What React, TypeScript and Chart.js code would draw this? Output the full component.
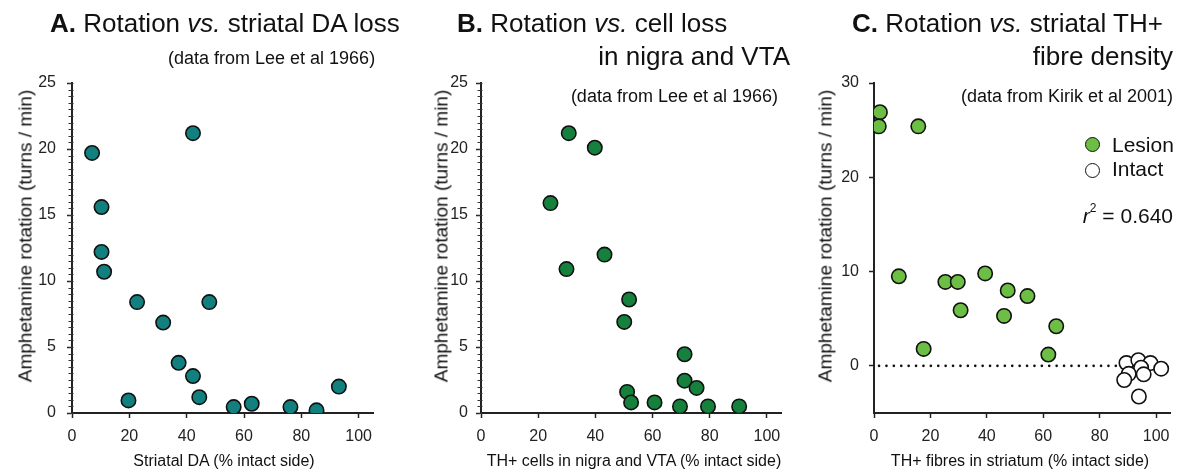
import React, { useEffect, useRef } from "react";
import { Chart, registerables } from "chart.js";

Chart.register(...registerables);

const FONT = "'Liberation Sans', Arial, sans-serif";

// ---- tick labels ----
const X_TICKS = [0, 20, 40, 60, 80, 100];
const Y_TICKS_AB = [0, 5, 10, 15, 20, 25];
const Y_TICKS_C = [0, 10, 20, 30];

// ---- Panel A: rotation vs striatal DA (% intact side) ----
const A_X = [7, 42.2, 10.3, 10.3, 11.2, 22.7, 47.9, 31.8, 37.2, 42.2, 44.4, 19.7, 56.4, 62.7, 76.2, 85.3, 93.1];
const A_Y = [19.7, 21.2, 15.6, 12.2, 10.7, 8.4, 8.4, 6.85, 3.8, 2.8, 1.2, 0.95, 0.45, 0.7, 0.45, 0.2, 2.0];

// ---- Panel B: rotation vs TH+ cells in nigra and VTA ----
const B_X = [30.7, 39.8, 24.3, 29.9, 43.2, 51.8, 50.1, 71.2, 71.2, 75.4, 51.1, 52.5, 60.7, 69.6, 79.4, 90.3];
const B_Y = [21.2, 20.1, 15.9, 10.9, 12.0, 8.6, 6.9, 4.45, 2.45, 1.9, 1.6, 0.8, 0.8, 0.5, 0.5, 0.5];

// ---- Panel C: rotation vs TH+ fibres in striatum ----
const C_LESION_X = [2.1, 1.7, 15.7, 8.8, 25.3, 29.7, 39.4, 47.4, 54.4, 30.7, 46.1, 64.6, 17.6, 61.8];
const C_LESION_Y = [26.9, 25.4, 25.4, 9.5, 8.9, 8.9, 9.8, 8.0, 7.4, 5.9, 5.3, 4.2, 1.8, 1.2];
const C_INTACT_X = [89.5, 93.7, 98, 101.8, 94.7, 95.6, 90.3, 88.7, 93.9];
const C_INTACT_Y = [0.3, 0.6, 0.3, -0.3, -0.2, -0.9, -0.85, -1.5, -3.25];
const C_ZERO_LINE_X = [0, 87];
const C_ZERO_LINE_Y = [0, 0];

const zip = (xs: number[], ys: number[]) => xs.map((x, i) => ({ x, y: ys[i] }));

type PanelCfg = {
  datasets: any[];
  yMin: number;
  yMax: number;
  yTicks: number[];
  minorStep: number;
  padLeft: number;
  padRight: number;
  yPad: number;
};

function makeOptions(cfg: PanelCfg): any {
  return {
    animation: false,
    responsive: false,
    maintainAspectRatio: false,
    events: [],
    layout: { padding: { left: cfg.padLeft, right: cfg.padRight, top: 83, bottom: 17 } },
    plugins: { legend: { display: false }, tooltip: { enabled: false }, title: { display: false } },
    scales: {
      x: {
        type: "linear",
        min: 0,
        max: 105,
        afterBuildTicks: (s: any) => {
          s.ticks = X_TICKS.map((v) => ({ value: v }));
        },
        afterFit: (s: any) => {
          s.height = 40;
        },
        border: { color: "#222", width: 2 },
        grid: { drawOnChartArea: false, drawTicks: true, tickLength: 5, tickColor: "#222", tickWidth: 1.5 },
        ticks: { color: "#222", font: { family: FONT, size: 16 }, padding: 9, maxRotation: 0, autoSkip: false },
      },
      y: {
        type: "linear",
        min: cfg.yMin,
        max: cfg.yMax,
        afterBuildTicks: (s: any) => {
          s.ticks = cfg.yTicks.map((v) => ({ value: v }));
        },
        afterFit: (s: any) => {
          s.width = 50;
        },
        border: { color: "#222", width: 2 },
        grid: { drawOnChartArea: false, drawTicks: true, tickLength: 5, tickColor: "#222", tickWidth: 1.5 },
        ticks: { color: "#222", font: { family: FONT, size: 16 }, padding: cfg.yPad, autoSkip: false },
      },
    },
  };
}

function minorTickPlugin(step: number) {
  return {
    id: "minorTicks",
    afterDraw(chart: any) {
      if (!step) return;
      const s = chart.scales.y;
      const ctx = chart.ctx;
      ctx.save();
      ctx.strokeStyle = "#333";
      ctx.lineWidth = 1;
      for (let v = s.min; v <= s.max + 1e-9; v += step) {
        const y = Math.round(s.getPixelForValue(v)) + 0.5;
        ctx.beginPath();
        ctx.moveTo(s.right - 3.5, y);
        ctx.lineTo(s.right + 1.5, y);
        ctx.stroke();
      }
      ctx.restore();
    },
  };
}

function Panel(props: { left: number; width: number; cfg: PanelCfg }) {
  const ref = useRef<HTMLCanvasElement | null>(null);
  useEffect(() => {
    if (!ref.current) return;
    const chart = new Chart(ref.current, {
      type: "scatter",
      data: { datasets: props.cfg.datasets },
      options: makeOptions(props.cfg),
      plugins: [minorTickPlugin(props.cfg.minorStep)],
    } as any);
    return () => chart.destroy();
  }, []);
  return (
    <canvas
      ref={ref}
      width={props.width}
      height={470}
      style={{ position: "absolute", left: props.left, top: 0, width: props.width, height: 470 }}
    />
  );
}

const pointStyle = (color: string) => ({
  type: "scatter",
  pointRadius: 7.2,
  pointHoverRadius: 7.2,
  pointBorderWidth: 1.6,
  borderColor: "#111",
  backgroundColor: color,
  pointBackgroundColor: color,
  pointBorderColor: "#111",
  showLine: false,
  order: 1,
});

const cfgA: PanelCfg = {
  datasets: [{ ...pointStyle("#11807e"), label: "A", data: zip(A_X, A_Y) }],
  yMin: 0,
  yMax: 25,
  yTicks: Y_TICKS_AB,
  minorStep: 0.5,
  padLeft: 22,
  padRight: 22,
  yPad: 11,
};

const cfgB: PanelCfg = {
  datasets: [{ ...pointStyle("#16803d"), label: "B", data: zip(B_X, B_Y) }],
  yMin: 0,
  yMax: 25,
  yTicks: Y_TICKS_AB,
  minorStep: 0.5,
  padLeft: 481 - 395 - 50,
  padRight: 395 + 395 - 782,
  yPad: 8,
};

const cfgC: PanelCfg = {
  datasets: [
    { ...pointStyle("#6cbf44"), label: "Lesion", data: zip(C_LESION_X, C_LESION_Y) },
    { ...pointStyle("#ffffff"), label: "Intact", data: zip(C_INTACT_X, C_INTACT_Y) },
    {
      type: "line",
      label: "zero",
      data: zip(C_ZERO_LINE_X, C_ZERO_LINE_Y),
      borderColor: "#111",
      borderWidth: 2.6,
      borderDash: [0.1, 7.3],
      borderDashOffset: 2.4,
      borderCapStyle: "round",
      pointRadius: 0,
      showLine: true,
      fill: false,
      order: 2,
    },
  ],
  yMin: -5,
  yMax: 30,
  yTicks: Y_TICKS_C,
  minorStep: 0,
  padLeft: 874 - 790 - 50,
  padRight: 1179 - 1176,
  yPad: 10,
};

const abs = (s: React.CSSProperties): React.CSSProperties => ({
  position: "absolute",
  whiteSpace: "nowrap",
  lineHeight: 1,
  ...s,
});

function YTitle(props: { cx: number; cy: number }) {
  return (
    <div
      style={abs({
        left: props.cx,
        top: props.cy,
        fontSize: 19,
        transform: "translate(-50%, -50%) rotate(-90deg)",
      })}
    >
      Amphetamine rotation (turns / min)
    </div>
  );
}

function XTitle(props: { cx: number; text: string }) {
  return (
    <div style={abs({ left: props.cx, top: 461, fontSize: 16, transform: "translate(-50%, -50%)" })}>
      {props.text}
    </div>
  );
}

const Dot = (props: { cx: number; cy: number; fill: string }) => (
  <div
    style={{
      position: "absolute",
      left: props.cx - 7.5,
      top: props.cy - 7.5,
      width: 15,
      height: 15,
      boxSizing: "border-box",
      borderRadius: "50%",
      border: "1.6px solid #111",
      background: props.fill,
    }}
  />
);

export default function App() {
  return (
    <div
      style={{
        position: "absolute",
        left: 0,
        top: 0,
        width: 1179,
        height: 470,
        background: "#fff",
        fontFamily: FONT,
        color: "#111",
        overflow: "hidden",
      }}
    >
      <Panel left={0} width={395} cfg={cfgA} />
      <Panel left={395} width={395} cfg={cfgB} />
      <Panel left={790} width={389} cfg={cfgC} />

      {/* Panel titles */}
      <div style={abs({ left: 50, top: 10, fontSize: 26 })}>
        <b>A.</b> Rotation <i>vs.</i> striatal DA loss
      </div>
      <div style={abs({ left: 168, top: 49, fontSize: 18 })}>(data from Lee et al 1966)</div>

      <div style={abs({ left: 457, top: 10, fontSize: 26 })}>
        <b>B.</b> Rotation <i>vs.</i> cell loss
      </div>
      <div style={abs({ right: 1179 - 790, top: 43, fontSize: 26 })}>in nigra and VTA</div>
      <div style={abs({ right: 1179 - 778, top: 87, fontSize: 18 })}>(data from Lee et al 1966)</div>

      <div style={abs({ left: 852, top: 10, fontSize: 26 })}>
        <b>C.</b> Rotation <i>vs.</i> striatal TH+
      </div>
      <div style={abs({ right: 1179 - 1173, top: 43, fontSize: 26 })}>fibre density</div>
      <div style={abs({ right: 1179 - 1173, top: 87, fontSize: 18 })}>(data from Kirik et al 2001)</div>

      {/* Axis titles */}
      <YTitle cx={25} cy={236} />
      <YTitle cx={441} cy={236} />
      <YTitle cx={825} cy={236} />
      <XTitle cx={224} text="Striatal DA (% intact side)" />
      <XTitle cx={634} text="TH+ cells in nigra and VTA (% intact side)" />
      <XTitle cx={1020} text="TH+ fibres in striatum (% intact side)" />

      {/* Panel C legend and statistic */}
      <Dot cx={1092} cy={144} fill="#6cbf44" />
      <div style={abs({ left: 1112, top: 144, fontSize: 21, transform: "translateY(-50%)" })}>Lesion</div>
      <Dot cx={1092} cy={170} fill="#ffffff" />
      <div style={abs({ left: 1112, top: 168, fontSize: 21, transform: "translateY(-50%)" })}>Intact</div>
      <div style={abs({ right: 1179 - 1173, top: 215, fontSize: 21, transform: "translateY(-50%)" })}>
        <i>r</i>
        <sup style={{ fontSize: 12, verticalAlign: "top", position: "relative", top: -3 }}>2</sup> = 0.640
      </div>
    </div>
  );
}
